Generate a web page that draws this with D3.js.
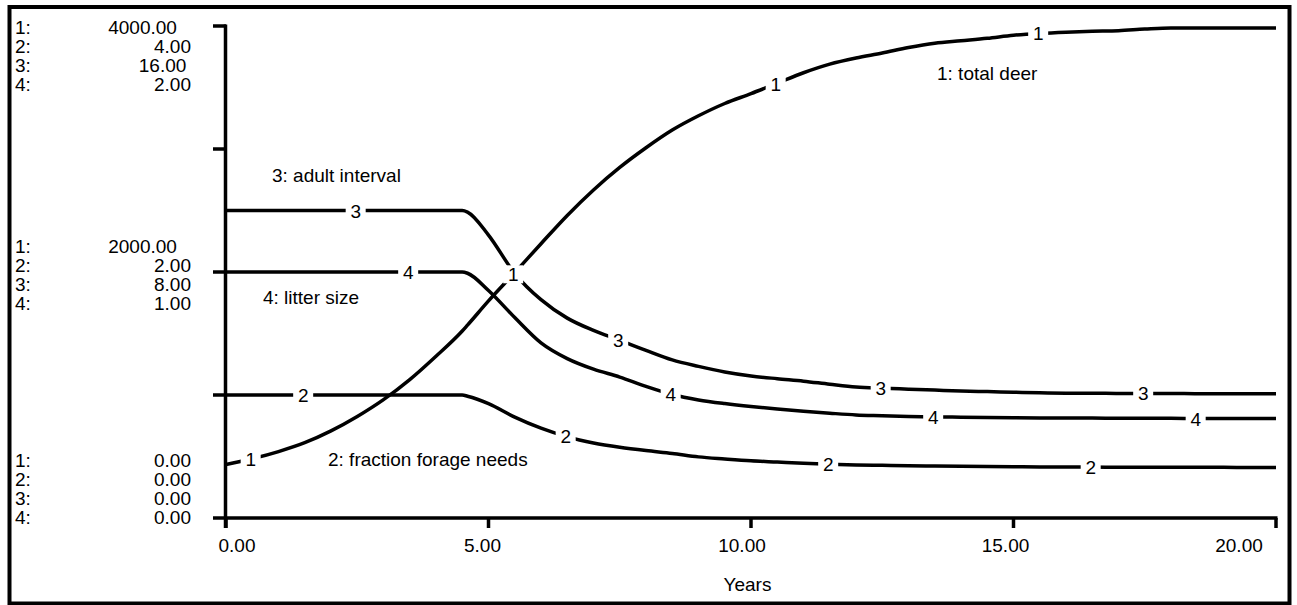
<!DOCTYPE html>
<html>
<head>
<meta charset="utf-8">
<script src="https://cdn.jsdelivr.net/npm/d3@7"></script>
<style>
  html, body { margin: 0; padding: 0; background: #fff; }
  svg { display: block; }
  text { font-family: "Liberation Sans", Arial, sans-serif; fill: #000; }
</style>
</head>
<body>
<svg id="chart" width="1297" height="605"></svg>
<script>
// ---- data ----
const years = [0,0.5,1,1.5,2,2.5,3,3.5,4,4.5,4.6,5,5.5,6,6.5,7,7.5,8,8.5,9,9.5,10,10.5,11,11.5,12,12.5,13,13.5,14,14.5,15,15.5,16,16.5,17,17.5,18,18.5,19,19.5,20];
const totalDeer = [435,482,540,612,708,825,962,1125,1315,1520,1568,1765,1995,2230,2460,2667,2850,3010,3154,3270,3370,3450,3535,3620,3690,3740,3780,3825,3860,3880,3900,3925,3940,3950,3957,3962,3975,3984,3984,3984,3984,3984];
const fractionForageNeeds = [1,1,1,1,1,1,1,1,1,1,0.99,0.93,0.82,0.73,0.66,0.61,0.575,0.548,0.525,0.497,0.48,0.465,0.455,0.445,0.437,0.431,0.428,0.425,0.423,0.421,0.419,0.417,0.415,0.414,0.414,0.413,0.413,0.412,0.412,0.412,0.411,0.411];
const adultInterval = [10,10,10,10,10,10,10,10,10,10,9.95,9.2,7.95,7.1,6.5,6.1,5.78,5.45,5.14,4.93,4.75,4.62,4.53,4.45,4.35,4.26,4.22,4.19,4.16,4.13,4.11,4.09,4.07,4.06,4.06,4.05,4.05,4.05,4.04,4.04,4.04,4.04];
const litterSize = [1,1,1,1,1,1,1,1,1,1,0.995,0.925,0.815,0.712,0.648,0.605,0.573,0.535,0.502,0.48,0.465,0.453,0.443,0.434,0.426,0.419,0.416,0.413,0.411,0.41,0.409,0.408,0.407,0.406,0.406,0.405,0.405,0.405,0.404,0.404,0.404,0.404];
const seriesNames = ["1: total deer","2: fraction forage needs","3: adult interval","4: litter size"];
const seriesMax = [4000, 4, 16, 2];
const xTicks = [0, 5, 10, 15, 20];
const xTitle = "Years";

// ---- layout ----
const svg = d3.select("#chart");
const FS = 19;
const x = d3.scaleLinear().domain([0, 20]).range([226, 1276]);
const yPix = [518, 26];
const yScales = seriesMax.map(m => d3.scaleLinear().domain([0, m]).range(yPix));
const allSeries = [totalDeer, fractionForageNeeds, adultInterval, litterSize];
const fmt = d3.format(".2f");

// frame
svg.append("rect").attr("x", 9.5).attr("y", 7).attr("width", 1280).attr("height", 596.5)
  .attr("fill", "none").attr("stroke", "#000").attr("stroke-width", 4);

// axes
const axisG = svg.append("g").attr("stroke", "#000").attr("stroke-width", 3.5).attr("fill", "none");
axisG.append("line").attr("x1", 225.5).attr("x2", 225.5).attr("y1", yPix[1] - 1.5).attr("y2", yPix[0] + 10);
axisG.append("line").attr("x1", 213).attr("x2", x(20) + 1.5).attr("y1", yPix[0]).attr("y2", yPix[0]);
const yTickScale = d3.scaleLinear().domain([0, 1]).range(yPix);
[0.25, 0.5, 0.75, 1].forEach(f => {
  axisG.append("line").attr("x1", 213).attr("x2", 226).attr("y1", yTickScale(f)).attr("y2", yTickScale(f));
});
xTicks.forEach(t => {
  axisG.append("line").attr("x1", x(t)).attr("x2", x(t)).attr("y1", yPix[0]).attr("y2", yPix[0] + 10);
});

// x tick labels
const xLabelDx = [11, -6, -9, -8, -37];
xTicks.forEach((t, i) => {
  svg.append("text").attr("x", x(t) + xLabelDx[i]).attr("y", 552)
    .attr("text-anchor", "middle").attr("font-size", FS).text(fmt(t));
});
svg.append("text").attr("x", 747.5).attr("y", 591).attr("text-anchor", "middle")
  .attr("font-size", FS).text(xTitle);

// left scale blocks
const blocks = [{f: 1, base: 34}, {f: 0.5, base: 253}, {f: 0, base: 467}];
blocks.forEach(b => {
  seriesMax.forEach((m, i) => {
    const yy = b.base + i * 19;
    svg.append("text").attr("x", 15).attr("y", yy).attr("font-size", FS).text((i + 1) + ":");
    const s = fmt(m * b.f);
    const dx = -Math.max(0, s.length - 4) * 4.7;
    svg.append("text").attr("x", 191 + dx).attr("y", yy).attr("text-anchor", "end")
      .attr("font-size", FS).text(s);
  });
});

// lines
const pts = allSeries.map(vals => years.map((t, j) => [t, vals[j]]));
pts.forEach((p, i) => {
  const line = d3.line().x(d => x(d[0])).y(d => yScales[i](d[1])).curve(d3.curveMonotoneX);
  svg.append("path").attr("d", line(p)).attr("fill", "none")
    .attr("stroke", "#000").attr("stroke-width", 3.5).attr("stroke-linejoin", "round");
});

// numbered labels along lines
function valueAt(vals, t) {
  const interp = d3.scaleLinear().domain(years).range(vals);
  return interp(t);
}
const labelG = svg.append("g");
allSeries.forEach((vals, i) => {
  for (let j = 0; j < 4; j++) {
    const t = i + 0.47 + 5 * j;
    const px = x(t), py = yScales[i](valueAt(vals, t));
    labelG.append("rect").attr("x", px - 10).attr("y", py - 9).attr("width", 20).attr("height", 18).attr("fill", "#fff");
    labelG.append("text").attr("x", px).attr("y", py + 7).attr("text-anchor", "middle")
      .attr("font-size", FS).text(i + 1);
  }
});

// series name annotations
const namePos = [[937, 79.5], [328, 466], [272, 182], [263, 304]];
seriesNames.forEach((n, i) => {
  svg.append("text").attr("x", namePos[i][0]).attr("y", namePos[i][1]).attr("font-size", FS).text(n);
});
</script>
</body>
</html>
